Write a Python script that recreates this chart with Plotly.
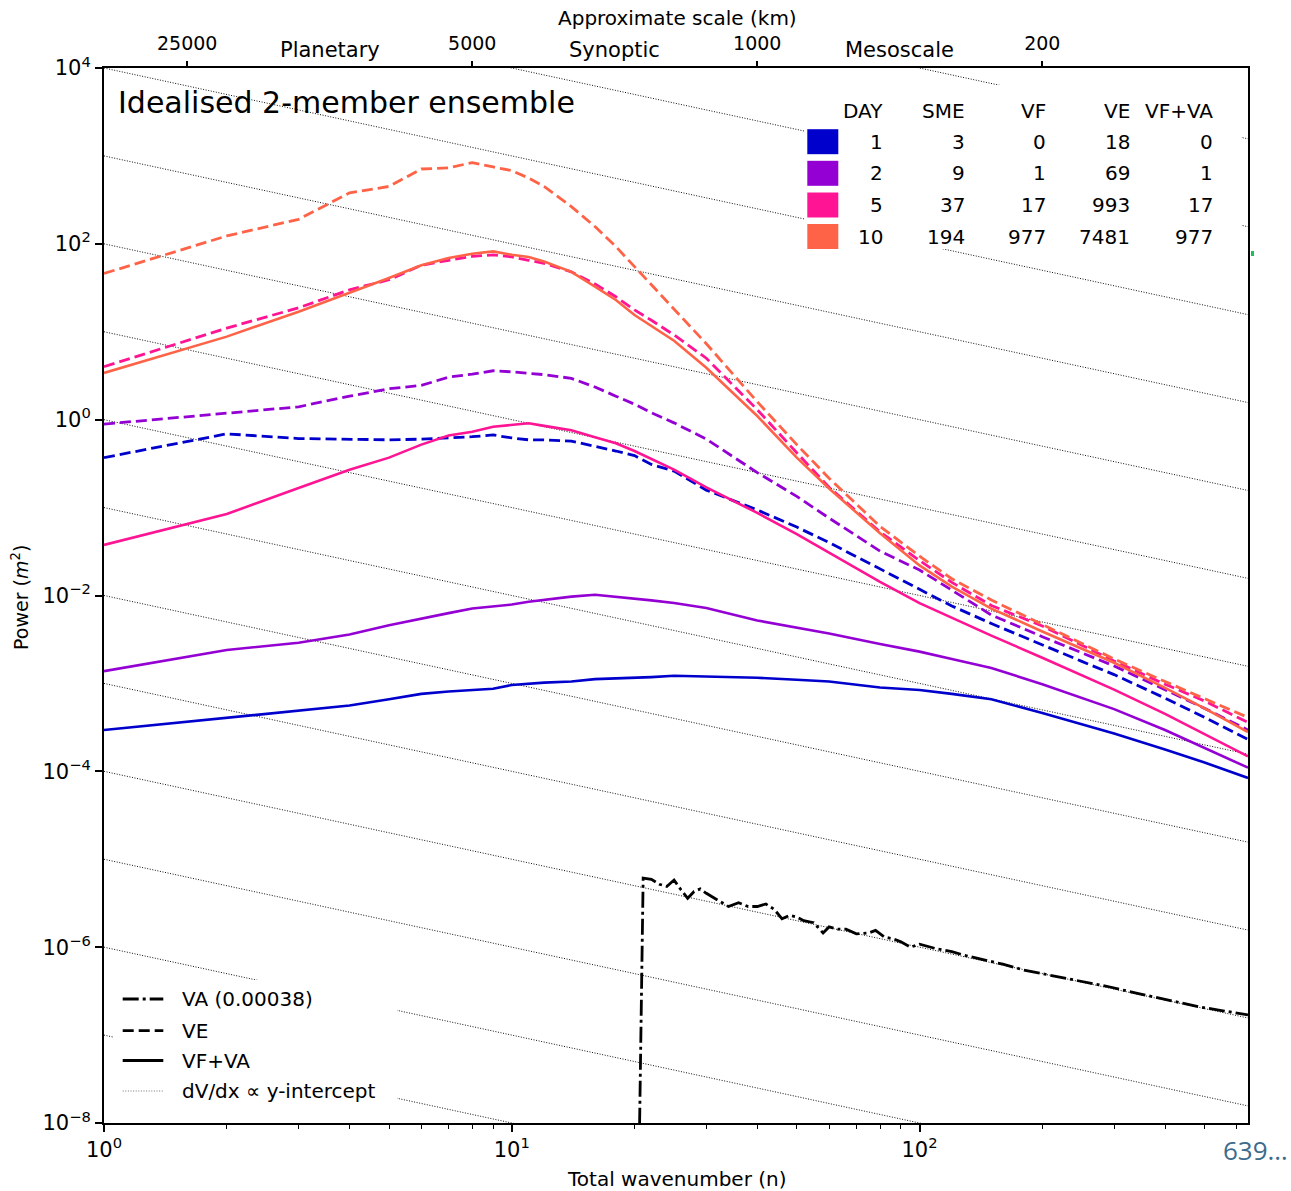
import numpy as np
import plotly.graph_objects as go

# ---------------- data ----------------
wavenumber = [1, 2, 3, 4, 5, 6, 7, 8, 9, 10, 11, 12, 14, 16, 18, 20, 22, 25, 30, 40,
              50, 60, 80, 100, 120, 150, 200, 250, 300, 400, 500, 639]

days = [1, 2, 5, 10]
day_colors = ["#0000CD", "#9400D3", "#FF1493", "#FF6347"]

ve_day1 = [0.37, 0.69, 0.61, 0.60, 0.59, 0.60, 0.62, 0.64, 0.67, 0.62, 0.59, 0.59, 0.57, 0.50,
           0.44, 0.39, 0.31, 0.26, 0.158, 0.094, 0.06, 0.04, 0.02, 0.0117, 0.0076, 0.0048,
           0.00272, 0.00178, 0.00126, 6.8e-4, 4.1e-4, 2.3e-4]
ve_day2 = [0.89, 1.19, 1.40, 1.85, 2.25, 2.45, 3.05, 3.3, 3.6, 3.5, 3.35, 3.25, 2.95, 2.35,
           1.85, 1.5, 1.2, 0.92, 0.6, 0.25, 0.134, 0.076, 0.032, 0.0195, 0.0115, 0.006,
           0.0034, 0.00223, 0.00158, 8.5e-4, 5.2e-4, 2.95e-4]
ve_day5 = [4.0, 11, 18.7, 30, 39, 57, 65, 72, 75, 71, 65, 60, 48, 35, 25, 17.7, 13.5, 9.2,
           5.0, 1.3, 0.42, 0.17, 0.053, 0.025, 0.0141, 0.0077, 0.0045, 0.0027, 0.0018,
           9.8e-4, 6.3e-4, 3.6e-4]
ve_day10 = [46, 123, 190, 380, 450, 710, 730, 840, 750, 680, 560, 450, 265, 157, 93, 55, 34,
            17.7, 7.3, 1.6, 0.52, 0.216, 0.061, 0.028, 0.0155, 0.0089, 0.0047, 0.00284,
            0.0019, 0.00105, 6.7e-4, 4.1e-4]

vfva_day1 = [2.95e-4, 4.1e-4, 4.9e-4, 5.6e-4, 6.6e-4, 7.6e-4, 8.1e-4, 8.5e-4, 8.7e-4, 9.6e-4,
             1.0e-3, 1.02e-3, 1.05e-3, 1.12e-3, 1.14e-3, 1.15e-3, 1.18e-3, 1.22e-3, 1.2e-3,
             1.16e-3, 1.1e-3, 1.05e-3, 9.0e-4, 8.4e-4, 7.6e-4, 6.6e-4, 4.6e-4, 3.4e-4, 2.7e-4,
             1.77e-4, 1.26e-4, 8.4e-5]
vfva_day2 = [0.00138, 0.0024, 0.0029, 0.0036, 0.0046, 0.0055, 0.0063, 0.0071, 0.0075, 0.0079,
             0.0085, 0.0089, 0.0097, 0.0102, 0.0097, 0.0093, 0.0088, 0.0082, 0.0072, 0.0052,
             0.0043, 0.0037, 0.0028, 0.0023, 0.0019, 0.0015, 9.8e-4, 6.8e-4, 5.1e-4, 2.95e-4,
             1.86e-4, 1.1e-4]
vfva_day5 = [0.0376, 0.0845, 0.167, 0.27, 0.37, 0.52, 0.66, 0.73, 0.83, 0.87, 0.91, 0.85, 0.76,
             0.63, 0.54, 0.44, 0.36, 0.27, 0.17, 0.087, 0.05, 0.031, 0.0143, 0.0082, 0.0056,
             0.0035, 0.00196, 0.00124, 8.5e-4, 4.5e-4, 2.66e-4, 1.48e-4]
vfva_day10 = [3.4, 8.8, 16.9, 27.5, 40.8, 57, 69, 77, 82, 75, 71, 63, 48, 32.6, 23, 15.5, 11.6,
              7.9, 3.9, 1.1, 0.37, 0.165, 0.051, 0.022, 0.0126, 0.0071, 0.0039, 0.00248,
              0.00172, 8.9e-4, 5.2e-4, 2.8e-4]

va_wavenumber = [20, 21, 22, 23, 24, 25, 26, 27, 28, 29, 30, 32, 34, 36, 38, 40, 42, 44, 46,
                 48, 50, 52, 55, 58, 60, 63, 66, 70, 75, 78, 82, 86, 90, 95, 100, 110, 120,
                 130, 143, 160, 180, 200, 230, 260, 295, 340, 379, 430, 484, 550, 639]
va_values = [1e-12, 6.1e-6, 5.9e-6, 5.2e-6, 4.9e-6, 5.8e-6, 4.5e-6, 3.6e-6, 4.3e-6, 4.6e-6,
             4.1e-6, 3.4e-6, 2.9e-6, 3.2e-6, 2.9e-6, 2.9e-6, 3.1e-6, 2.7e-6, 2.1e-6, 2.3e-6,
             2.2e-6, 2.0e-6, 1.9e-6, 1.45e-6, 1.7e-6, 1.6e-6, 1.6e-6, 1.42e-6, 1.45e-6,
             1.55e-6, 1.3e-6, 1.25e-6, 1.15e-6, 1.0e-6, 1.08e-6, 9.6e-7, 8.9e-7, 8.0e-7,
             7.2e-7, 6.4e-7, 5.5e-7, 5.0e-7, 4.4e-7, 3.9e-7, 3.5e-7, 3.0e-7, 2.7e-7, 2.35e-7,
             2.1e-7, 1.9e-7, 1.7e-7]

guide_intercepts = [1e6, 1e5, 1e4, 1e3, 1e2, 1e1, 1e0, 1e-1, 1e-2, 1e-3, 1e-4, 1e-5, 1e-6, 1e-7]
n_max = 639

table_header = ["DAY", "SME", "VF", "VE", "VF+VA"]
table_rows = [["1", "3", "0", "18", "0"],
              ["2", "9", "1", "69", "1"],
              ["5", "37", "17", "993", "17"],
              ["10", "194", "977", "7481", "977"]]

scale_km_vals = [25000, 5000, 1000, 200]
scale_labels = ["Planetary", "Synoptic", "Mesoscale"]

legend_labels = ["VA (0.00038)", "VE", "VF+VA", "dV/dx \u221d y-intercept"]

# ---------------- figure ----------------
W, H = 1291, 1191
L, R, T, B = 104, 1248, 68, 1123


def xp(px):
    return (px - L) / (R - L)


def yp(py):
    return (B - py) / (B - T)


fig = go.Figure()

GUIDE = dict(color="#111", width=1.0, dash="1px,1.6px")
for c in guide_intercepts:
    fig.add_trace(go.Scatter(x=[1, n_max], y=[c, c / n_max], mode="lines", line=GUIDE,
                             showlegend=False, hoverinfo="skip"))

ve_all = [ve_day1, ve_day2, ve_day5, ve_day10]
vfva_all = [vfva_day1, vfva_day2, vfva_day5, vfva_day10]
DASH = "11px,5px"
DASHDOT = "16px,4px,3px,4px"
for d, col, ve, vf in zip(days, day_colors, ve_all, vfva_all):
    fig.add_trace(go.Scatter(x=wavenumber, y=ve, mode="lines",
                             line=dict(color=col, width=2.8, dash=DASH),
                             name=f"VE day {d}", showlegend=False))
    fig.add_trace(go.Scatter(x=wavenumber, y=vf, mode="lines",
                             line=dict(color=col, width=2.6),
                             name=f"VF+VA day {d}", showlegend=False))

fig.add_trace(go.Scatter(x=va_wavenumber, y=va_values, mode="lines",
                         line=dict(color="black", width=2.8, dash=DASHDOT),
                         name="VA", showlegend=False))

# dummy trace so the top axis is drawn
fig.add_trace(go.Scatter(x=[10], y=[None], xaxis="x2", showlegend=False, hoverinfo="skip"))

FONT = "DejaVu Sans"

ytick_vals = [10.0 ** k for k in range(-8, 5, 2)]
ytick_text = [("10<sup>" + (str(k) if k >= 0 else "\u2212" + str(-k)) + "</sup>")
              for k in range(-8, 5, 2)]
minor_x = [m * 10 ** e for e in range(0, 3) for m in range(2, 10) if m * 10 ** e < n_max]

xr = [0, np.log10(n_max)]
fig.update_layout(
    width=W, height=H,
    margin=dict(l=L, r=W - R, t=T, b=H - B),
    paper_bgcolor="white", plot_bgcolor="white",
    font=dict(family=FONT, size=18, color="black"),
    showlegend=False,
    xaxis=dict(type="log", range=xr, showgrid=False, zeroline=False,
               tickvals=[1, 10, 100], ticktext=["10<sup>0</sup>", "10<sup>1</sup>", "10<sup>2</sup>"],
               ticks="outside", ticklen=7, tickwidth=1.5, tickcolor="black",
               showline=True, linecolor="black", linewidth=2, mirror=True,
               minor=dict(tickvals=minor_x, ticks="outside", ticklen=4, tickwidth=1, tickcolor="black"),
               tickfont=dict(size=21)),
    xaxis2=dict(type="log", range=xr, overlaying="x", side="top", anchor="y",
                showgrid=False, zeroline=False,
                tickvals=[40000 / s for s in scale_km_vals], ticktext=[str(s) for s in scale_km_vals],
                ticks="outside", ticklen=6, tickwidth=1.5, tickcolor="black",
                ticklabelstandoff=3, tickfont=dict(size=19)),
    yaxis=dict(type="log", range=[-8, 4], showgrid=False, zeroline=False,
               tickvals=ytick_vals, ticktext=ytick_text,
               ticks="outside", ticklen=7, tickwidth=1.5, tickcolor="black",
               showline=True, linecolor="black", linewidth=2, mirror=True,
               tickfont=dict(size=21)),
)

shapes = []
shapes.append(dict(type="rect", xref="paper", yref="paper", x0=xp(805), x1=xp(1241), y0=yp(249), y1=yp(85),
                   fillcolor="white", line=dict(width=0), layer="above"))
shapes.append(dict(type="rect", xref="paper", yref="paper", x0=xp(113), x1=xp(397), y0=yp(1114), y1=yp(980),
                   fillcolor="white", line=dict(width=0), layer="above"))

annotations = []
annotations.append(dict(text="Idealised 2-member ensemble", xref="paper", yref="paper",
                        x=xp(116), y=yp(102), xanchor="left", yanchor="middle", showarrow=False,
                        font=dict(size=30)))
annotations.append(dict(text="Approximate scale (km)", xref="paper", yref="paper", x=xp(677), y=yp(18),
                        xanchor="center", yanchor="middle", showarrow=False, font=dict(size=20)))
annotations.append(dict(text="Total wavenumber (n)", xref="paper", yref="paper", x=xp(677), y=yp(1179),
                        xanchor="center", yanchor="middle", showarrow=False, font=dict(size=20)))
annotations.append(dict(text="Power (<i>m</i><sup>2</sup>)", xref="paper", yref="paper", x=xp(20), y=yp(598),
                        xanchor="center", yanchor="middle", showarrow=False, textangle=-90,
                        font=dict(size=19)))
tick_logs = [np.log10(40000 / s) for s in scale_km_vals]
for i, lab in enumerate(scale_labels):
    annotations.append(dict(text=lab, xref="x", yref="paper", x=(tick_logs[i] + tick_logs[i + 1]) / 2,
                            y=yp(50), xanchor="center", yanchor="middle", showarrow=False,
                            font=dict(size=21)))
annotations.append(dict(text="639\u2026", xref="paper", yref="paper", x=xp(1221), y=yp(1150),
                        xanchor="left", yanchor="middle", showarrow=False,
                        font=dict(size=26, color="#3d6b8a", family="Open Sans")))

col_right = [885, 966.7, 1048, 1131.7, 1215]
row_y = [141.7, 173.3, 205, 236.5]
for j, h in enumerate(table_header):
    annotations.append(dict(text=h, xref="paper", yref="paper", x=xp(col_right[j]), y=yp(110.7),
                            xanchor="right", yanchor="middle", showarrow=False, font=dict(size=20)))
for i, row in enumerate(table_rows):
    shapes.append(dict(type="rect", xref="paper", yref="paper", x0=xp(807.3), x1=xp(838.3),
                       y0=yp(row_y[i] + 12.5), y1=yp(row_y[i] - 12.5),
                       fillcolor=day_colors[i], line=dict(width=0), layer="above"))
    for j, v in enumerate(row):
        annotations.append(dict(text=v, xref="paper", yref="paper", x=xp(col_right[j]), y=yp(row_y[i]),
                                xanchor="right", yanchor="middle", showarrow=False, font=dict(size=20)))

leg_y = [999, 1030.7, 1060.5, 1091]
leg_styles = [dict(color="black", width=2.8, dash=DASHDOT),
              dict(color="black", width=2.8, dash=DASH),
              dict(color="black", width=2.8, dash="solid"),
              dict(color="#666", width=0.9, dash="1px,1.6px")]
for lab, y, st in zip(legend_labels, leg_y, leg_styles):
    shapes.append(dict(type="line", xref="paper", yref="paper", x0=xp(122.7), x1=xp(163.3),
                       y0=yp(y), y1=yp(y), line=st, layer="above"))
    annotations.append(dict(text=lab, xref="paper", yref="paper", x=xp(180), y=yp(y),
                            xanchor="left", yanchor="middle", showarrow=False, font=dict(size=20)))

shapes.append(dict(type="rect", xref="paper", yref="paper", x0=xp(1251), x1=xp(1254),
                   y0=yp(256), y1=yp(251), fillcolor="#1fbf5f", line=dict(width=0)))

fig.update_layout(shapes=shapes, annotations=annotations)
fig.write_html("out.html")
